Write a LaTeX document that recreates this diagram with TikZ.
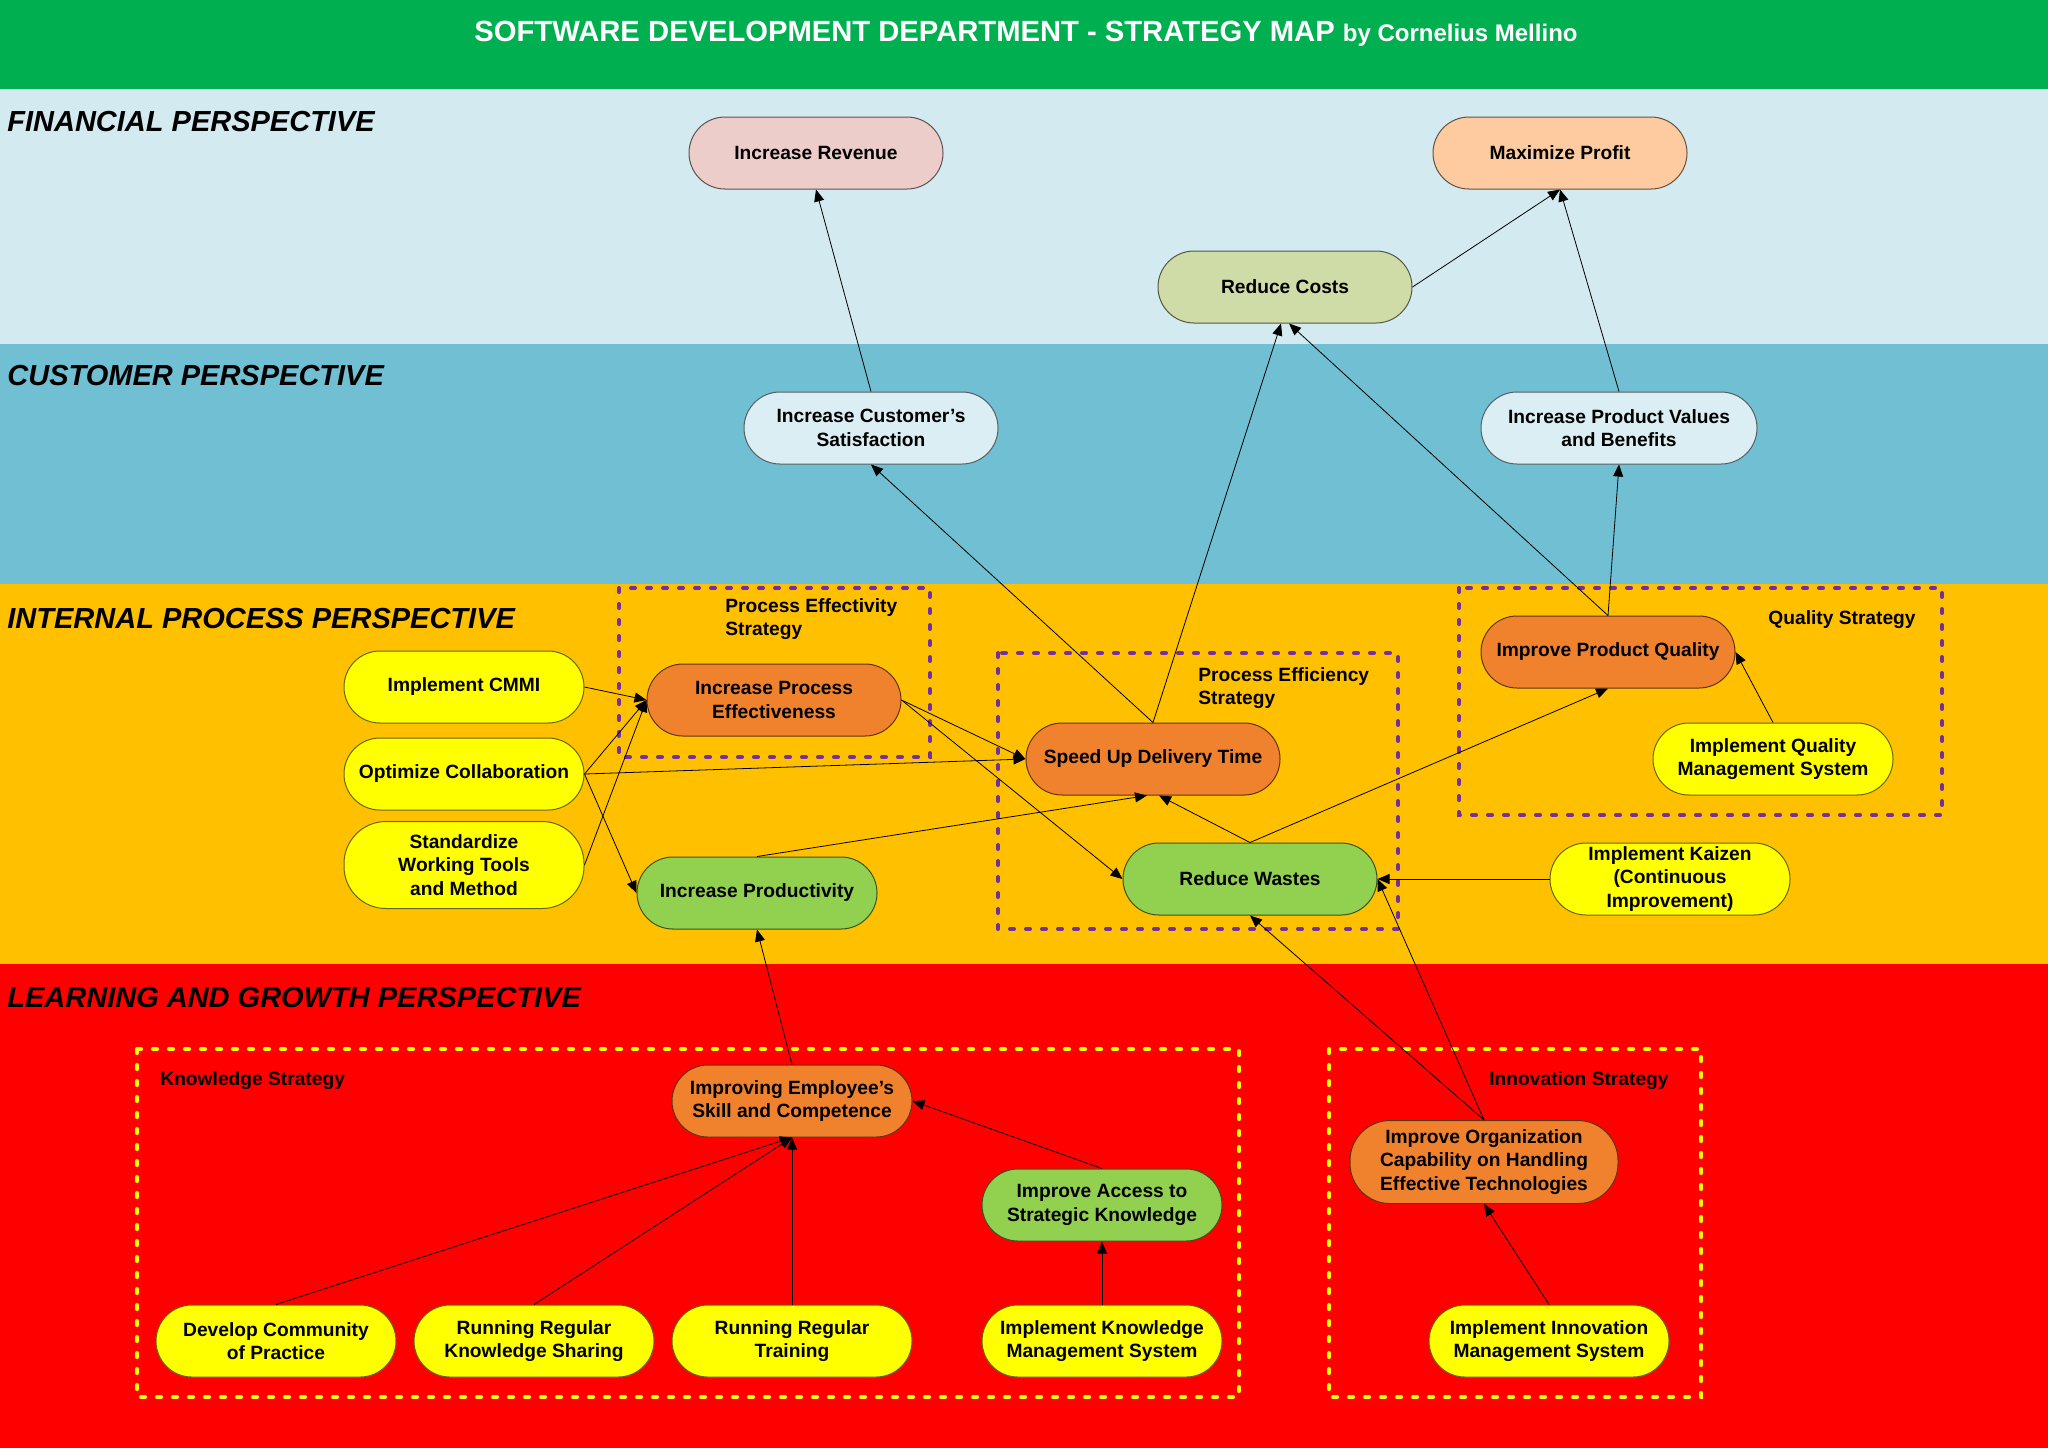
\documentclass[tikz,border=0pt]{standalone}
\usepackage{fontspec}
\setmainfont{Liberation Sans}
\usepackage{xcolor}
\usepackage{tikz}
\usetikzlibrary{arrows.meta}

\definecolor{bandtitle}{HTML}{00B050}
\definecolor{bandfin}{HTML}{D3EBF0}
\definecolor{bandcust}{HTML}{70BFD3}
\definecolor{bandint}{HTML}{FFC000}
\definecolor{bandlearn}{HTML}{FF0000}
\definecolor{goalpink}{HTML}{ECCDC9}
\definecolor{goalpeach}{HTML}{FDCB9F}
\definecolor{goalolive}{HTML}{D0DCA8}
\definecolor{goalblue}{HTML}{DAEEF3}
\definecolor{goalyellow}{HTML}{FFFF00}
\definecolor{goalorange}{HTML}{F0822E}
\definecolor{goalgreen}{HTML}{92D050}
\definecolor{stratpurple}{HTML}{7030A0}

\begin{document}
\begin{tikzpicture}[x=0.5pt, y=-0.5pt,
  goal/.style={rectangle, rounded corners=18pt, fill=#1, draw=#1!40!black,
    line width=0.5pt, minimum width=127pt, minimum height=36pt, inner sep=1pt,
    align=center, font=\bfseries\fontsize{9.6}{11.8}\selectfont},
  narrow/.style={minimum width=120pt},
  persp/.style={anchor=west, inner sep=0pt, font=\bfseries\itshape\fontsize{14.5}{17}\selectfont},
  stratlabel/.style={inner sep=0pt, align=left, font=\bfseries\fontsize{9.6}{11.8}\selectfont},
  stratbox/.style={draw=#1, line width=2pt, dash pattern=on 2pt off 6pt, line cap=round},
  link/.style={-{Triangle[length=6pt,width=5pt]}, line width=0.4pt, black}]

% fix the page size
\useasboundingbox (0,0) rectangle (2048,1448);

% --- BANDS ---
\foreach \top/\bot/\col in {0/89/bandtitle, 89/344/bandfin, 344/584/bandcust,
                             584/964/bandint, 964/1448/bandlearn} {
  \fill[\col] (0,\top) rectangle (2048,\bot);
}

% title
\node[text=white, font=\bfseries\fontsize{14.6}{17}\selectfont] (title) at (1026,34)
  {SOFTWARE DEVELOPMENT DEPARTMENT - STRATEGY MAP {\fontsize{12}{14}\selectfont by Cornelius Mellino}};

% perspective names
\node[persp] (finlabel) at (7,122) {FINANCIAL PERSPECTIVE};
\node[persp] (custlabel) at (7,376) {CUSTOMER PERSPECTIVE};
\node[persp] (intlabel) at (7,618) {INTERNAL PROCESS PERSPECTIVE};
\node[persp] (learnlabel) at (7,997) {LEARNING AND GROWTH PERSPECTIVE};

% --- STRATEGY BOXES ---
\draw[stratbox=stratpurple] (619,588) rectangle (930,757);
\draw[stratbox=stratpurple] (998,653) rectangle (1398,929);
\draw[stratbox=stratpurple] (1459,588) rectangle (1942,815);
\draw[stratbox=goalyellow] (137,1049) rectangle (1239,1397);
\draw[stratbox=goalyellow] (1329,1049) rectangle (1701,1397);

\node[stratlabel, anchor=west] (effectlabel) at (725,619) {Process Effectivity\\Strategy};
\node[stratlabel, anchor=west] (efficlabel) at (1198,688) {Process Efficiency\\Strategy};
\node[stratlabel] (qualitylabel) at (1842,620) {Quality Strategy};
\node[stratlabel, anchor=west] (knowlabel) at (160,1081) {Knowledge Strategy};
\node[stratlabel, anchor=east] (innolabel) at (1669,1081) {Innovation Strategy};

% --- FINANCIAL ---
\node[goal=goalpink] (increv) at (816,153) {Increase Revenue};
\node[goal=goalpeach] (maxprof) at (1560,153) {Maximize Profit};
\node[goal=goalolive] (redcost) at (1285,287) {Reduce Costs};

% --- CUSTOMER ---
\node[goal=goalblue] (custsat) at (871,428) {Increase Customer’s\\Satisfaction};
\node[goal=goalblue, minimum width=138pt] (prodval) at (1619,428) {Increase Product Values\\and Benefits};

% --- INTERNAL PROCESS ---
\node[goal=goalyellow, narrow] (cmmi) at (464,687) {Implement CMMI};
\node[goal=goalyellow, narrow] (optcol) at (464,774) {Optimize Collaboration};
\node[goal=goalyellow, narrow, minimum height=43.5pt, rounded corners=21pt] (stdtool) at (464,865)
  {Standardize\\Working Tools\\and Method};
\node[goal=goalorange] (ipe) at (774,700) {Increase Process\\Effectiveness};
\node[goal=goalgreen, narrow] (incprod) at (757,893) {Increase Productivity};
\node[goal=goalorange] (speedup) at (1153,759) {Speed Up Delivery Time};
\node[goal=goalgreen] (rwaste) at (1250,879) {Reduce Wastes};
\node[goal=goalorange] (ipq) at (1608,652) {Improve Product Quality};
\node[goal=goalyellow, narrow] (iqms) at (1773,759) {Implement Quality\\Management System};
\node[goal=goalyellow, narrow] (kaizen) at (1670,879) {Implement Kaizen\\(Continuous\\Improvement)};

% --- LEARNING AND GROWTH ---
\node[goal=goalorange, narrow] (impemp) at (792,1101) {Improving Employee’s\\Skill and Competence};
\node[goal=goalgreen, narrow] (impacc) at (1102,1205) {Improve Access to\\Strategic Knowledge};
\node[goal=goalyellow, narrow] (devcom) at (276,1341) {Develop Community\\of Practice};
\node[goal=goalyellow, narrow] (knowsh) at (534,1341) {Running Regular\\Knowledge Sharing};
\node[goal=goalyellow, narrow] (training) at (792,1341) {Running Regular\\Training};
\node[goal=goalyellow, narrow] (impkms) at (1102,1341) {Implement Knowledge\\Management System};
\node[goal=goalorange, minimum width=134pt, minimum height=41.5pt, rounded corners=20pt] (imporg) at (1484,1162)
  {Improve Organization\\Capability on Handling\\Effective Technologies};
\node[goal=goalyellow, narrow] (impinno) at (1549,1341) {Implement Innovation\\Management System};

% --- CAUSE AND EFFECT LINKS ---
\foreach \a/\b in {custsat.north/increv.south, redcost.east/maxprof.south,
                   prodval.north/maxprof.south, ipq.north/prodval.south,
                   speedup.north/custsat.south, ipe.east/speedup.west,
                   ipe.east/rwaste.west, optcol.east/speedup.west,
                   cmmi.east/ipe.west, optcol.east/ipe.west, stdtool.east/ipe.west,
                   optcol.east/incprod.west, rwaste.north/ipq.south,
                   iqms.north/ipq.east, kaizen.west/rwaste.east,
                   imporg.north/rwaste.south, imporg.north/rwaste.east,
                   impemp.north/incprod.south, impacc.north/impemp.east,
                   devcom.north/impemp.south, knowsh.north/impemp.south,
                   training.north/impemp.south, impkms.north/impacc.south,
                   impinno.north/imporg.south} {
  \draw[link] (\a) -- (\b);
}
% links that meet beside each other
\draw[link] (speedup.north) -- ([xshift=-2pt]redcost.south);
\draw[link] (ipq.north) -- ([xshift=2pt]redcost.south);
\draw[link] (incprod.north) -- ([xshift=-3pt]speedup.south);
\draw[link] (rwaste.north) -- ([xshift=3pt]speedup.south);

\end{tikzpicture}
\end{document}
